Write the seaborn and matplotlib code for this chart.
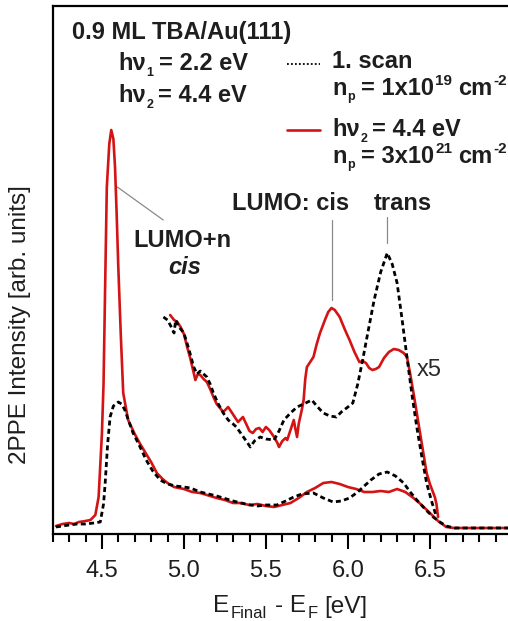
import numpy as np
import pandas as pd
import matplotlib
matplotlib.use("Agg")
import matplotlib.pyplot as plt
from matplotlib.lines import Line2D
from matplotlib.ticker import MultipleLocator
import seaborn as sns

# ---- spectra: final-state energy [eV] vs. 2PPE intensity [arb. units] ----
# first scan (low fluence), full range
scan1_E = [4.22, 4.26, 4.30, 4.35, 4.40, 4.45, 4.49, 4.51, 4.52, 4.535, 4.55, 4.57,
           4.60, 4.62, 4.64, 4.67, 4.69, 4.73, 4.77, 4.81, 4.855, 4.90, 4.95, 5.00,
           5.04, 5.10, 5.15, 5.20, 5.24, 5.30, 5.35, 5.405, 5.45, 5.50, 5.567, 5.62,
           5.67, 5.72, 5.79, 5.85, 5.91, 5.96, 6.01, 6.06, 6.10, 6.14, 6.19, 6.24,
           6.29, 6.34, 6.38, 6.42, 6.47, 6.52, 6.56, 6.60, 6.65, 6.70, 6.85, 7.00]
scan1_I = [7, 8, 9, 10, 10, 11, 12, 30, 51, 90, 117, 128,
           132, 130, 124, 110, 101, 88, 74, 63, 54, 50, 48, 47,
           46, 42, 40, 38, 36, 33, 31, 29, 28, 29, 29, 33,
           37, 40, 41, 36, 32, 33, 36, 42, 48, 54, 60, 62,
           58, 51, 42, 34, 25, 17, 12, 8, 6, 6, 6, 6]

# high fluence, hv2 = 4.4 eV, full range
hv2_E = [4.22, 4.26, 4.30, 4.33, 4.36, 4.40, 4.43, 4.46, 4.48, 4.50, 4.51, 4.52,
         4.53, 4.545, 4.557, 4.57, 4.58, 4.59, 4.60, 4.615, 4.63, 4.66, 4.70, 4.73,
         4.77, 4.80, 4.835, 4.87, 4.90, 4.94, 5.00, 5.05, 5.10, 5.14, 5.20, 5.25,
         5.30, 5.34, 5.40, 5.45, 5.50, 5.55, 5.60, 5.65, 5.70, 5.75, 5.80, 5.85,
         5.90, 5.95, 6.00, 6.05, 6.10, 6.15, 6.20, 6.25, 6.30, 6.35, 6.40, 6.45,
         6.50, 6.55, 6.60, 6.65, 6.70, 6.85, 7.00]
hv2_I = [8, 10, 11, 10, 12, 13, 14, 19, 37, 100, 150, 250,
         347, 390, 404, 395, 367, 320, 267, 200, 141, 114, 100, 91,
         80, 72, 61, 55, 51, 47, 45, 42, 41, 39, 36, 34,
         31, 31, 29, 30, 28, 27, 29, 31, 36, 42, 46, 51,
         52, 50, 47, 45, 42, 42, 43, 42, 45, 42, 36, 29,
         21, 13, 7, 6, 6, 6, 6]

# x5 magnified traces above 4.9 eV
scan1_x5_E = [4.875, 4.90, 4.92, 4.94, 4.95, 4.97, 5.00, 5.03, 5.06, 5.08, 5.10, 5.12,
              5.14, 5.16, 5.18, 5.21, 5.24, 5.27, 5.30, 5.32, 5.35, 5.38, 5.405, 5.43,
              5.465, 5.50, 5.55, 5.58, 5.61, 5.65, 5.69, 5.73, 5.78, 5.81, 5.85, 5.89,
              5.93, 5.96, 6.00, 6.03, 6.06, 6.09, 6.12, 6.16, 6.20, 6.24, 6.27, 6.30,
              6.33, 6.36, 6.39, 6.42, 6.45, 6.48, 6.51, 6.54]
scan1_x5_I = [217, 214, 208, 201, 214, 207, 201, 185, 167, 160, 163, 160,
              157, 150, 141, 130, 121, 114, 110, 107, 100, 93, 87, 93,
              97, 95, 94, 103, 114, 121, 127, 130, 134, 128, 121, 118,
              117, 122, 127, 131, 150, 174, 200, 234, 262, 281, 270, 251,
              215, 177, 140, 107, 78, 51, 33, 17]

hv2_x5_E = [4.916, 4.94, 4.96, 4.98, 5.00, 5.02, 5.04, 5.07, 5.085, 5.10, 5.12, 5.14,
            5.16, 5.18, 5.20, 5.22, 5.24, 5.27, 5.29, 5.31, 5.33, 5.36, 5.38, 5.40,
            5.42, 5.44, 5.46, 5.48, 5.50, 5.52, 5.55, 5.57, 5.58, 5.60, 5.62, 5.63,
            5.65, 5.67, 5.68, 5.69, 5.70, 5.72, 5.73, 5.74, 5.75, 5.77, 5.79, 5.81,
            5.83, 5.86, 5.88, 5.90, 5.92, 5.95, 5.98, 6.01, 6.04, 6.07, 6.09, 6.11,
            6.13, 6.15, 6.17, 6.19, 6.22, 6.25, 6.28, 6.31, 6.34, 6.36, 6.38, 6.40,
            6.42, 6.44, 6.46, 6.48, 6.50, 6.53, 6.54, 6.55]
hv2_x5_I = [219, 214, 212, 207, 200, 187, 175, 154, 160, 159, 155, 152,
            145, 137, 130, 126, 122, 127, 122, 117, 112, 117, 110, 103,
            101, 105, 106, 102, 107, 104, 97, 91, 87, 93, 96, 94,
            104, 114, 105, 97, 110, 125, 134, 155, 167, 172, 177, 190,
            201, 214, 222, 226, 224, 217, 205, 194, 182, 172, 173, 171,
            166, 164, 165, 167, 176, 182, 185, 184, 181, 177, 160, 141,
            121, 101, 81, 61, 50, 37, 30, 17]

xticks = [4.5, 5.0, 5.5, 6.0, 6.5]
xtick_labels = ["4.5", "5.0", "5.5", "6.0", "6.5"]

# ---- style ----
sns.set_style("ticks")
plt.rcParams["font.family"] = ["Liberation Sans", "DejaVu Sans"]

RED = "#d41414"
TXT = "#1e1e1e"
GREY = "#8a8a8a"
DOT = (0, (1.8, 1.2))

W, H = 508, 621
fig = plt.figure(figsize=(W / 100, H / 100), dpi=100)
ax = fig.add_axes([52.7 / W, 1 - 534 / H, 459.2 / W, 528.3 / H])


def frame(E, I):
    return pd.DataFrame({"E": E, "I": I})


sns.lineplot(data=frame(hv2_E, hv2_I), x="E", y="I", sort=False, ax=ax,
             color=RED, lw=1.9, zorder=3)
sns.lineplot(data=frame(hv2_x5_E, hv2_x5_I), x="E", y="I", sort=False, ax=ax,
             color=RED, lw=1.9, zorder=3)
sns.lineplot(data=frame(scan1_E, scan1_I), x="E", y="I", sort=False, ax=ax,
             color="black", lw=2.0, linestyle=DOT, zorder=4)
sns.lineplot(data=frame(scan1_x5_E, scan1_x5_I), x="E", y="I", sort=False, ax=ax,
             color="black", lw=2.0, linestyle=DOT, zorder=4)

ax.set_xlim(4.2, 7.0)
ax.set_ylim(0, 528.3)
ax.set_xlabel("")
ax.set_ylabel("")
ax.set_yticks([])
ax.set_xticks(xticks)
ax.set_xticklabels(xtick_labels)
ax.xaxis.set_minor_locator(MultipleLocator(0.1))
ax.tick_params(axis="x", which="major", direction="out", length=11, width=1.5,
               pad=8, labelsize=17, labelcolor=TXT, color="black")
ax.tick_params(axis="x", which="minor", direction="out", length=6, width=1.5,
               color="black")
for s in ["left", "bottom", "top"]:
    ax.spines[s].set_linewidth(1.6)
    ax.spines[s].set_color("black")
ax.spines["right"].set_visible(False)

# ---- leader lines to the peaks (data coordinates) ----
leader_kw = dict(color=GREY, lw=0.9, zorder=2)
ax.plot([4.594, 4.874], [347, 314], **leader_kw)
ax.plot([5.902, 5.902], [234, 314], **leader_kw)
ax.plot([6.238, 6.238], [291, 317], **leader_kw)

renderer = fig.canvas.get_renderer()


def px(x, y):
    return x / W, 1 - y / H


def ftext(x, y, s, **kw):
    kw.setdefault("color", TXT)
    kw.setdefault("fontsize", 17)
    return fig.text(*px(x, y), s, ha="left", va="baseline", **kw)


def rich(x, y, parts, **kw):
    """Write a run of text pieces: (text, size, baseline shift px, gap after px)."""
    for s, size, dy, gap in parts:
        t = ftext(x, y + dy, s, fontsize=size, **kw)
        x += t.get_window_extent(renderer).width + gap


B = dict(fontweight="bold")
ftext(72, 39.5, "0.9 ML TBA/Au(111)", **B)
rich(118, 70, [("hν", 17, 0, 1), ("1", 9, 6, 5), ("= 2.2 eV", 17, 0, 0)], **B)
rich(118, 101.5, [("hν", 17, 0, 1), ("2", 9, 6, 5), ("= 4.4 eV", 17, 0, 0)], **B)

# legend entries
fig.add_artist(Line2D([287 / W, 320 / W], [1 - 64 / H, 1 - 64 / H], color="black",
                      lw=1.3, linestyle=(0, (1, 1.2))))
fig.add_artist(Line2D([287 / W, 320 / W], [1 - 130 / H, 1 - 130 / H], color=RED,
                      lw=1.9))
ftext(332, 68, "1. scan", **B)
rich(332, 95, [("n", 17, 0, 1), ("p", 9, 5, 6), ("= 1x10", 17, 0, 1),
               ("19", 11, -10, 6), ("cm", 17, 0, 1), ("-2", 11, -10, 0)], **B)
rich(332, 136.5, [("hν", 17, 0, 1), ("2", 9, 6, 5), ("= 4.4 eV", 17, 0, 0)], **B)
rich(332, 163, [("n", 17, 0, 1), ("p", 9, 5, 6), ("= 3x10", 17, 0, 1),
                ("21", 11, -10, 6), ("cm", 17, 0, 1), ("-2", 11, -10, 0)], **B)

# peak labels
ftext(133, 247, "LUMO+n", **B)
ftext(168, 273.5, "cis", fontweight="bold", fontstyle="italic")
ftext(231.5, 210, "LUMO: cis", **B)
ftext(374, 210, "trans", **B)
ftext(417, 376, "x5", color="#2a2a2a")

# axis titles
fig.text(*px(20, 325), "2PPE Intensity [arb. units]", rotation=90, ha="center",
         va="center", fontsize=17.5, color=TXT)
rich(213, 612.5, [("E", 17.5, 0, 1), ("Final", 12, 5.5, 9), ("- E", 17.5, 0, 1),
                  ("F", 12, 5.5, 7), ("[eV]", 17.5, 0, 0)])

fig.savefig("out.png", dpi=100)
